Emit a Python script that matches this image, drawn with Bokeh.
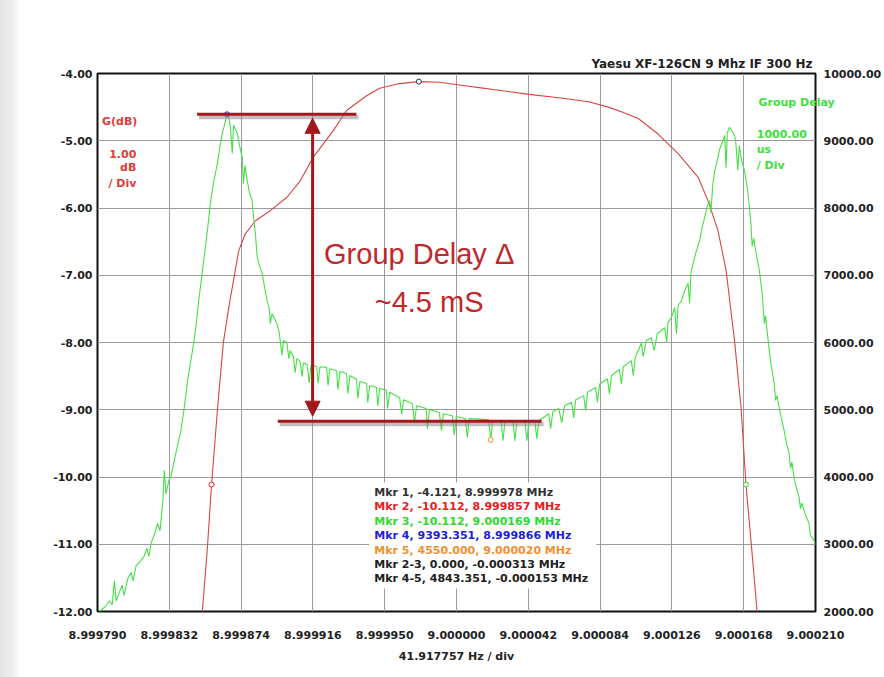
from bokeh.plotting import figure
from bokeh.models import (Range1d, LinearAxis, FixedTicker, NumeralTickFormatter,
                          Label, Arrow, NormalHead)
from bokeh.embed import file_html
from bokeh.resources import INLINE

# ---- sweep settings -------------------------------------------------------
HZ_PER_DIV = 41.917757
CENTER_MHZ = 9.0
x_tick_labels = ["8.999790", "8.999832", "8.999874", "8.999916", "8.999950", "9.000000",
                 "9.000042", "9.000084", "9.000126", "9.000168", "9.000210"]
gain_ticks_db = [-12, -11, -10, -9, -8, -7, -6, -5, -4]
delay_ticks_us = [2000, 3000, 4000, 5000, 6000, 7000, 8000, 9000, 10000]

# ---- transmission gain (dB) vs offset from 9 MHz (Hz) ----------------------
gain_hz = [-149.3, -145.4, -143.0, -139.6, -136.1, -132.9, -130.0, -127.1, -123.2, -117.4,
           -108.7, -99.0, -91.3, -83.5, -71.9, -64.2, -52.5, -44.8, -33.2, -22.0,
           -10.0, 1.6, 13.2, 24.8, 42.3, 59.7, 77.1, 88.7, 97.4, 106.1,
           117.7, 129.4, 141.0, 146.8, 152.6, 157.4, 162.3, 166.1, 169.0, 171.9,
           174.8, 176.4]
gain_db = [-12.3, -11.04, -10.112, -9.01, -8.0, -7.47, -7.05, -6.63, -6.38, -6.19,
           -6.04, -5.84, -5.6, -5.24, -4.85, -4.55, -4.33, -4.22, -4.15, -4.121,
           -4.13, -4.17, -4.21, -4.25, -4.31, -4.36, -4.42, -4.5, -4.58, -4.67,
           -4.9, -5.19, -5.54, -5.89, -6.33, -6.93, -7.97, -8.96, -10.112, -10.94,
           -11.79, -12.3]

# ---- group delay (us) vs offset from 9 MHz (Hz) ----------------------------
gd_hz = [-208.5, -205.1, -202.7, -201.0, -199.7, -198.7, -196.9, -195.2, -194.0, -191.9,
         -190.0, -188.8, -187.1, -184.2, -182.4, -180.7, -179.5, -178.4, -176.0, -174.5,
         -173.1, -171.4, -170.6, -169.6, -167.9, -166.7, -164.8, -163.3, -160.9, -159.0,
         -157.0, -155.1, -153.2, -151.6, -150.3, -148.7, -147.4, -145.4, -143.5, -141.6,
         -139.6, -138.3, -136.7, -135.4, -134.0, -132.8, -131.9, -130.9, -130.2, -128.0,
         -126.7, -125.1, -124.4, -123.5, -122.2, -120.9, -119.3, -118.6, -117.4, -116.4,
         -115.1, -113.5, -112.2, -110.6, -109.3, -108.7, -107.7, -106.4, -104.8, -103.5,
         -101.9, -101.0, -99.0, -97.9, -97.1, -95.2, -94.2, -93.2, -91.3, -90.1,
         -89.4, -87.2, -86.0, -84.9, -81.6, -80.8, -79.7, -75.8, -75.0, -73.9,
         -70.0, -69.2, -68.0, -64.2, -63.4, -62.2, -58.3, -57.6, -56.4, -52.5,
         -51.8, -50.6, -46.7, -46.0, -44.8, -40.9, -40.2, -39.0, -33.2, -32.0,
         -30.9, -25.7, -24.5, -23.3, -17.7, -17.0, -15.8, -10.0, -8.8, -7.7,
         -2.4, -1.3, -0.1, 5.1, 6.3, 7.4, 13.2, 18.8, 20.0, 21.1,
         26.0, 27.2, 28.3, 33.0, 34.1, 35.3, 39.9, 41.1, 42.3, 45.7,
         46.9, 48.1, 51.6, 53.9, 55.0, 56.2, 59.7, 61.4, 63.2, 67.2,
         68.4, 69.6, 74.2, 75.4, 76.5, 81.2, 82.3, 83.5, 88.1, 89.3,
         90.5, 95.1, 96.3, 97.4, 102.1, 103.2, 104.4, 107.9, 109.0, 110.8,
         113.7, 115.4, 117.2, 121.6, 122.7, 123.5, 125.5, 127.4, 128.4, 129.4,
         131.3, 132.8, 135.2, 136.1, 136.9, 138.1, 139.8, 142.0, 143.3, 144.9,
         146.2, 147.8, 148.5, 149.7, 150.8, 152.6, 153.7, 155.5, 156.6, 157.4,
         158.1, 159.4, 160.7, 162.3, 163.0, 164.2, 165.1, 166.1, 168.1, 170.0,
         171.9, 172.6, 173.5, 174.6, 176.8, 178.7, 179.7, 180.4, 182.6, 183.9,
         185.5, 186.3, 187.1, 188.4, 189.7, 191.3, 192.6, 194.2, 195.0, 195.8,
         197.1, 198.4, 200.0, 200.8, 201.6, 202.9, 204.2, 205.8, 206.6, 207.7,
         209.6]
gd_us = [2000, 2070, 2160, 2100, 2460, 2160, 2280, 2390, 2240, 2490,
         2580, 2460, 2680, 2760, 2820, 2940, 2820, 3010, 3170, 3310,
         3200, 3650, 4100, 3750, 3950, 4010, 4240, 4420, 4690, 5020,
         5430, 5730, 6030, 6360, 6670, 6980, 7260, 7670, 8110, 8410,
         8660, 8880, 9110, 9240, 9393.351, 9330, 9180, 8810, 9230, 9110,
         8930, 8750, 8360, 8630, 8410, 8230, 8110, 7890, 7620, 7280,
         7150, 7030, 6850, 6620, 6510, 6280, 6430, 6360, 6280, 6150,
         5810, 6030, 6000, 5760, 5880, 5790, 5550, 5760, 5720, 5490,
         5700, 5670, 5400, 5670, 5640, 5390, 5640, 5630, 5360, 5610,
         5580, 5300, 5570, 5540, 5240, 5510, 5450, 5170, 5420, 5390,
         5110, 5360, 5330, 5060, 5320, 5290, 5020, 5260, 5180, 4930,
         5150, 5090, 4810, 5060, 5020, 4720, 5000, 4960, 4690, 4940,
         4910, 4620, 4900, 4870, 4590, 4870, 4860, 4850, 4550, 4840,
         4840, 4540, 4840, 4840, 4540, 4840, 4840, 4540, 4840, 4840,
         4570, 4840, 4900, 4940, 4720, 4970, 5020, 4810, 5060, 5110,
         4880, 5150, 5210, 4990, 5260, 5330, 5110, 5380, 5460, 5240,
         5510, 5600, 5380, 5640, 5730, 5510, 5780, 5990, 5790, 6030,
         6070, 5880, 6130, 6220, 6000, 6300, 6370, 6520, 6130, 6550,
         6620, 6740, 6880, 6580, 7040, 7170, 7340, 7520, 7700, 7860,
         8010, 8110, 7930, 8360, 8560, 8750, 8880, 9000, 9080, 8600,
         9120, 9200, 9150, 9080, 9000, 8560, 8930, 8750, 8560, 8260,
         7770, 7430, 7550, 7370, 7070, 6670, 6280, 6400, 5880, 5630,
         5390, 5140, 5210, 5030, 4870, 4690, 4510, 4350, 4130, 4220,
         3990, 3840, 3700, 3530, 3610, 3500, 3410, 3310, 3130, 3100,
         3010]

# ---- markers: name, reading, frequency (MHz) -------------------------------
marker_names = ["Mkr 1", "Mkr 2", "Mkr 3", "Mkr 4", "Mkr 5"]
marker_values = [-4.121, -10.112, -10.112, 9393.351, 4550.000]
marker_mhz = [8.999978, 8.999857, 9.000169, 8.999866, 9.000020]
marker_on_delay = [False, False, False, True, True]
marker_colors = ["#303030", "#e82020", "#30d830", "#2020e0", "#f09030"]
delta_names = ["Mkr 2-3", "Mkr 4-5"]
delta_values = [0.000, 4843.351]
delta_mhz = [-0.000313, -0.000153]
delta_colors = ["#202020", "#202020"]

# group-delay spread highlighted on the chart
gd_high_us = 9393.351
gd_low_us = 4830
spread_text = ["Group Delay \u0394", "~4.5 mS"]
title_text = "Yaesu XF-126CN 9 Mhz IF 300 Hz"
gd_caption = "Group Delay"
gd_caption_at_us = 9570

# ---- figure -----------------------------------------------------------------
X_LO, X_HI = -5 * HZ_PER_DIV, 5 * HZ_PER_DIV
Y_LO, Y_HI = -12.0, -4.0
FL, FT, FW, FH = 97, 73, 721, 538        # frame left/top/width/height in px

p = figure(width=884, height=677, output_backend="svg", toolbar_location=None,
           x_range=Range1d(X_LO, X_HI), y_range=Range1d(Y_LO, Y_HI),
           min_border_left=FL, min_border_right=884 - FL - FW,
           min_border_top=FT, min_border_bottom=677 - FT - FH,
           background_fill_color="white", border_fill_color=None)
# pale grey page edge on the left, white panel behind the chart
p.styles = {"background": "linear-gradient(90deg, #e4e4e4 0px, #eeeeee 12px, #fbfbfb 18px, #ffffff 21px)"}
p.extra_y_ranges = {"gd": Range1d(2000, 10000)}


def hx(px):
    return X_LO + (px - FL) / FW * (X_HI - X_LO)


def dby(py):
    return Y_HI - (py - FT) / FH * (Y_HI - Y_LO)


def us_per_px():
    return 8000 / FH


p.outline_line_color = "#111111"
p.outline_line_width = 2

tick_font = "DejaVu Sans"

# title above the frame, right aligned
p.title.text = title_text
p.title.align = "right"
p.title.offset = 3
p.title.text_font = tick_font
p.title.text_font_style = "bold"
p.title.text_font_size = "12px"
p.title.text_color = "#222222"
p.title.standoff = 6

xt = FixedTicker(ticks=[(i - 5) * HZ_PER_DIV for i in range(11)])
p.xaxis.ticker = xt
p.xaxis.major_label_overrides = {(i - 5) * HZ_PER_DIV: lab for i, lab in enumerate(x_tick_labels)}
p.xaxis.axis_label = "41.917757 Hz / div"
p.yaxis.ticker = FixedTicker(ticks=gain_ticks_db)
p.yaxis.formatter = NumeralTickFormatter(format="0.00")

gd_axis = LinearAxis(y_range_name="gd", ticker=FixedTicker(ticks=delay_ticks_us),
                     formatter=NumeralTickFormatter(format="0.00"))
p.add_layout(gd_axis, "right")

# caption of the delay trace; it overhangs the frame edge, so it is carried by a
# label-only axis whose label is pulled back into the plot area
gd_caption_axis = LinearAxis(y_range_name="gd", ticker=FixedTicker(ticks=[gd_caption_at_us]),
                             major_label_overrides={gd_caption_at_us: gd_caption})
p.add_layout(gd_caption_axis, "right")

for ax in p.axis:
    ax.axis_line_color = None
    ax.major_tick_line_color = None
    ax.minor_tick_line_color = None
    ax.major_tick_out = 0
    ax.major_tick_in = 0
    ax.major_label_text_font = tick_font
    ax.major_label_text_font_style = "bold"
    ax.major_label_text_font_size = "11px"
    ax.major_label_text_color = "#222222"
    ax.axis_label_text_font = tick_font
    ax.axis_label_text_font_style = "bold"
    ax.axis_label_text_font_size = "11px"
    ax.axis_label_text_color = "#222222"
p.xaxis.major_label_standoff = 19
p.xaxis.axis_label_standoff = 8
p.yaxis[0].major_label_standoff = 5
gd_axis.major_label_standoff = 8
gd_caption_axis.major_label_text_color = "#3ee03e"
gd_caption_axis.major_label_standoff = -126

p.xgrid.ticker = xt
p.ygrid.ticker = FixedTicker(ticks=gain_ticks_db)
for g in p.grid:
    g.grid_line_color = "#9c9c9c"
    g.grid_line_width = 1

# white panel behind the marker readout
p.quad(left=hx(370), right=hx(598), top=dby(482), bottom=dby(588),
       fill_color="white", line_color=None)

# curves
p.line(gain_hz, gain_db, line_color="#d84444", line_width=1.1)
p.line(gd_hz, gd_us, y_range_name="gd", line_color="#46e046", line_width=1.1)

# marker symbols
for v, f, on_gd, c in zip(marker_values, marker_mhz, marker_on_delay, marker_colors):
    hz = (f - CENTER_MHZ) * 1e6
    kw = {"y_range_name": "gd"} if on_gd else {}
    p.scatter([hz], [v], marker="circle", size=5, fill_color="white",
              line_color=c, line_width=1, **kw)

# group delay spread bars with soft shadow
bar_red = "#a3181c"
shadow_dx, shadow_dy = hx(FL + 2) - hx(FL), 3 * us_per_px()
for x0, x1, yv in [(hx(197), hx(357), gd_high_us), (hx(278), hx(543), gd_low_us)]:
    p.line([x0 + shadow_dx, x1 + shadow_dx], [yv - shadow_dy, yv - shadow_dy],
           y_range_name="gd", line_color="#8a8a8a", line_alpha=0.55, line_width=4)
    p.line([x0, x1], [yv, yv], y_range_name="gd", line_color=bar_red, line_width=3)

arrow_x = hx(313)
p.add_layout(Arrow(start=NormalHead(size=15, fill_color=bar_red, line_color=bar_red),
                   end=NormalHead(size=15, fill_color=bar_red, line_color=bar_red),
                   x_start=arrow_x, y_start=gd_low_us + 5 * us_per_px(),
                   x_end=arrow_x, y_end=gd_high_us - 4 * us_per_px(),
                   y_range_name="gd", line_color=bar_red, line_width=3))

big_red = "#c0282c"
p.add_layout(Label(x=hx(420), y=dby(253), text=spread_text[0], text_align="center",
                   text_baseline="middle", text_font="Liberation Sans",
                   text_font_size="29px", text_color=big_red))
p.add_layout(Label(x=hx(430), y=dby(301), text=spread_text[1], text_align="center",
                   text_baseline="middle", text_font="Liberation Sans",
                   text_font_size="29px", text_color=big_red))

# scale legends inside the frame
mid = dict(text_font=tick_font, text_font_style="bold", text_font_size="11px",
           text_baseline="middle")
p.add_layout(Label(x=hx(137), y=dby(121), text="G(dB)", text_align="right",
                   text_color="#e03a3a", **mid))
for txt, py in [("1.00", 153), ("dB", 167), ("/ Div", 183)]:
    p.add_layout(Label(x=hx(136), y=dby(py), text=txt, text_align="right",
                       text_color="#e03a3a", **mid))
for txt, py in [("1000.00", 133), ("us", 149), ("/ Div", 165)]:
    p.add_layout(Label(x=hx(759), y=dby(py), text=txt, text_align="left",
                       text_color="#3ee03e", **mid))

# marker readout
lines = []
for n, v, f, c in zip(marker_names, marker_values, marker_mhz, marker_colors):
    lines.append((f"{n}, {v:.3f}, {f:.6f} MHz", c))
for n, v, f, c in zip(delta_names, delta_values, delta_mhz, delta_colors):
    lines.append((f"{n}, {v:.3f}, {f:.6f} MHz", c))
for i, (txt, c) in enumerate(lines):
    p.add_layout(Label(x=hx(375), y=dby(492 + i * 14.4), text=txt, text_align="left",
                       text_color=c, **mid))

open("out.html", "w").write(file_html(p, INLINE))
